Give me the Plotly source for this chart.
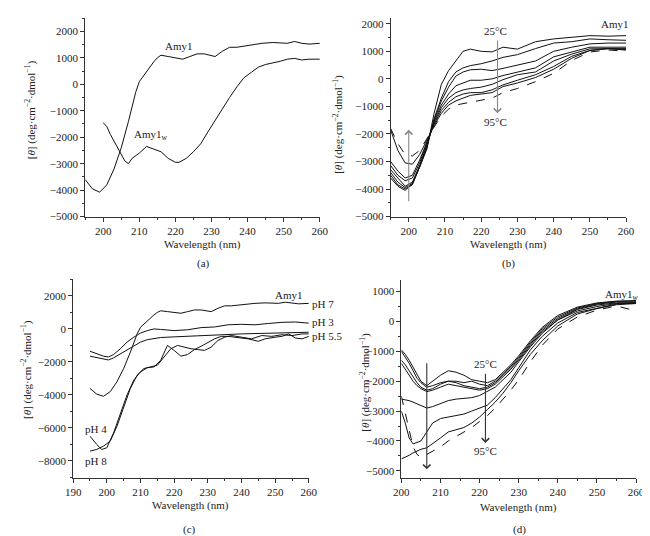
import plotly.graph_objects as go

# ---------------- Panel (a) ----------------
wl_amy1 = [195, 197, 199, 201, 203, 205, 207, 209, 210, 211, 212, 213, 214, 215, 216, 218, 220, 222, 224,
           226, 228, 230, 231, 233, 235, 237, 239, 241, 244, 247, 250, 251, 253, 255, 257, 260]
amy1 = [-3600, -3950, -4080, -3800, -3200, -2400, -1400, -300, 100, 300, 450, 650, 850, 1000, 1100, 1050,
        1000, 950, 1050, 1150, 1150, 1080, 1050, 1250, 1400, 1400, 1450, 1500, 1550, 1580, 1550, 1550, 1620,
        1550, 1520, 1550]
wl_amy1w = [200, 201, 202, 204, 205, 206, 207, 208, 210, 212, 214, 216, 218, 220, 221, 223, 225, 227, 229,
            231, 233, 235, 237, 239, 241, 243, 245, 247, 249, 251, 253, 255, 257, 260]
amy1w = [-1450, -1600, -1900, -2400, -2650, -2900, -3000, -2800, -2600, -2350, -2450, -2550, -2800, -2950,
         -2950, -2800, -2550, -2250, -1800, -1350, -950, -500, -100, 250, 450, 650, 750, 800, 870, 950, 980,
         920, 950, 950]

# ---------------- Panel (b): Amy1, 25-95 C ----------------
wl_b = [195, 197, 199, 201, 203, 205, 207, 209, 211, 213, 215, 217, 220, 223, 226, 230, 235, 240, 245, 250, 255, 260]
b_25 = [-3600, -3900, -4050, -3800, -3200, -2550, -1250, -200, 300, 650, 1000, 1080, 1000, 980, 1150, 1080, 1350, 1450, 1500, 1570, 1550, 1570]
b_35 = [-3500, -3850, -4000, -3850, -3200, -2500, -1450, -700, -100, 250, 400, 480, 550, 650, 780, 880, 1100, 1300, 1350, 1450, 1420, 1400]
b_45 = [-3400, -3750, -3950, -3800, -3200, -2450, -1500, -800, -300, 100, 250, 330, 350, 300, 380, 500, 650, 1000, 1150, 1270, 1300, 1300]
b_55 = [-3300, -3600, -3900, -3750, -3150, -2400, -1550, -950, -550, -250, -150, -50, -50, 0, 120, 250, 400, 800, 975, 1150, 1150, 1150]
b_65 = [-3150, -3500, -3700, -3600, -3050, -2350, -1600, -1050, -700, -500, -400, -350, -300, -200, -30, 150, 250, 650, 900, 1090, 1100, 1100]
b_75 = [-3000, -3350, -3600, -3500, -2950, -2300, -1650, -1150, -850, -650, -550, -500, -500, -400, -220, -50, 150, 450, 820, 1030, 1100, 1050]
b_85 = [-1850, -2600, -3050, -3100, -2750, -2200, -1700, -1250, -950, -800, -700, -600, -550, -500, -280, -150, 50, 350, 750, 1030, 1100, 1050]
b_95 = [-1800, -2350, -2750, -2800, -2600, -2150, -1750, -1350, -1100, -950, -900, -850, -800, -700, -500, -350, -100, 200, 670, 975, 1050, 1000]

# ---------------- Panel (c): Amy1 at different pH ----------------
wl_ph3 = [195, 197, 199, 200.5, 202, 204, 206, 208, 210, 212, 214, 216, 218, 220, 224, 228, 232, 236, 240,
          244, 248, 252, 256, 260]
ph3 = [-1350, -1500, -1650, -1700, -1550, -1200, -800, -500, -250, -100, 0, -30, -80, -100, -50, 80, 120,
       250, 280, 250, 330, 400, 420, 350]
wl_ph55 = [195, 197, 199, 200.5, 202, 204, 206, 208, 210, 212, 214, 216, 220, 224, 228, 232, 236, 240, 244,
           248, 252, 256, 260]
ph55 = [-1650, -1750, -1850, -1880, -1750, -1500, -1250, -1000, -800, -650, -580, -520, -480, -440, -390,
        -360, -330, -300, -280, -260, -240, -220, -200]
wl_ph4 = [195, 197, 198.5, 200, 202, 204, 206, 208, 210, 212, 214, 216, 218, 220, 222, 224, 226, 228, 230,
          232, 234, 236, 238, 240, 242, 245, 247, 250, 252, 254, 256, 258, 260]
ph4 = [-6500, -7000, -7300, -7200, -6300, -5200, -4000, -3100, -2600, -2350, -2300, -1900, -1000, -1300,
       -1650, -1550, -1250, -1050, -800, -600, -450, -450, -500, -550, -600, -750, -600, -500, -450, -300,
       -550, -600, -450]
wl_ph8 = [195, 197, 199, 201, 203, 205, 207, 209, 211, 213, 215, 217, 219, 221, 223, 225, 227, 229, 231,
          233, 235, 237, 240, 243, 246, 249, 252, 255, 258, 260]
ph8 = [-7400, -7300, -7100, -6800, -5900, -4800, -3600, -2800, -2400, -2300, -2200, -1700, -1200, -1000,
       -1100, -1200, -1250, -1300, -1100, -700, -500, -400, -500, -600, -400, -450, -350, -400, -300, -300]

# ---------------- Panel (d): Amy1w, 25-95 C ----------------
wl_d = [200, 201, 202, 203, 204, 205, 206.5, 208, 210, 212, 214, 216, 218, 220, 222, 224, 226, 228, 230, 233,
        236, 240, 245, 250, 255, 260]
d_25 = [-950, -1100, -1300, -1550, -1800, -2000, -2150, -2000, -1800, -1650, -1700, -1800, -1950, -2000, -2050,
        -1950, -1700, -1450, -1150, -650, -200, 200, 480, 620, 680, 700]
d_35 = [-1000, -1200, -1400, -1650, -1900, -2050, -2200, -2150, -2050, -2000, -2000, -2050, -2000, -2100, -2150,
        -2000, -1750, -1500, -1200, -700, -250, 150, 450, 600, 670, 680]
d_45 = [-1300, -1450, -1650, -1850, -2050, -2200, -2300, -2250, -2100, -2000, -2050, -2150, -2200, -2250, -2200,
        -2050, -1800, -1550, -1250, -750, -300, 100, 420, 580, 650, 650]
d_55 = [-1400, -1600, -1800, -2000, -2150, -2250, -2350, -2300, -2200, -2100, -2150, -2200, -2250, -2300, -2250,
        -2100, -1850, -1600, -1300, -800, -350, 50, 400, 550, 620, 630]
d_65 = [-2600, -2620, -2650, -2700, -2750, -2820, -2900, -2850, -2750, -2650, -2600, -2570, -2550, -2480, -2350,
        -2200, -1950, -1700, -1350, -850, -400, 50, 350, 500, 600, 600]
d_75 = [-3000, -3400, -3900, -4100, -4050, -4000, -3700, -3400, -3250, -3200, -3150, -3100, -3000, -2900, -2800,
        -2550, -2250, -1950, -1550, -950, -500, -50, 300, 450, 580, 620]
d_85 = [-4600, -4550, -4480, -4400, -4330, -4280, -4230, -4100, -3900, -3700, -3620, -3550, -3400, -3200, -2950,
        -2700, -2400, -2050, -1650, -1100, -650, -150, 250, 430, 560, 600]
d_95 = [-2500, -3100, -3700, -4200, -4450, -4550, -4450, -4350, -4200, -4000, -3850, -3700, -3550, -3350, -3150,
        -2900, -2600, -2300, -1950, -1350, -800, -250, 150, 380, 520, 350]

FONT = "Liberation Serif"
TXT = "#222"
LINE = dict(color="#111", width=1)
DASH = dict(color="#111", width=1, dash="dash")

fig = go.Figure()

def add(x, y, xa, ya, line=LINE):
    fig.add_trace(go.Scatter(x=x, y=y, mode="lines", line=line, xaxis=xa, yaxis=ya,
                             showlegend=False, hoverinfo="skip"))

add(wl_amy1, amy1, "x", "y")
add(wl_amy1w, amy1w, "x", "y")

for s in [b_25, b_35, b_45, b_55, b_65, b_75, b_85]:
    add(wl_b, s, "x2", "y2")
add(wl_b, b_95, "x2", "y2", DASH)

add(wl_amy1, amy1, "x3", "y3")
add(wl_ph3, ph3, "x3", "y3")
add(wl_ph55, ph55, "x3", "y3")
add(wl_ph4, ph4, "x3", "y3")
add(wl_ph8, ph8, "x3", "y3")

for s in [d_25, d_35, d_45, d_55, d_65, d_75, d_85]:
    add(wl_d, s, "x4", "y4")
add(wl_d, d_95, "x4", "y4", DASH)

W, H = 650, 536

def xdom(a, b):
    return [a / W, b / W]

def ydom(bot, top):
    return [1 - bot / H, 1 - top / H]

axcommon = dict(showline=True, linecolor="#333", linewidth=1, ticks="outside", ticklen=4,
                tickcolor="#333", showgrid=False, zeroline=False,
                tickfont=dict(family=FONT, size=11, color=TXT))

def ax(dom, rng, anchor, dtick, minor):
    return dict(axcommon, domain=dom, range=rng, anchor=anchor, dtick=dtick, tick0=0,
                minor=dict(dtick=minor, ticks="outside", ticklen=2, tickcolor="#333"))

fig.update_layout(
    width=W, height=H, margin=dict(l=0, r=0, t=0, b=0),
    paper_bgcolor="white", plot_bgcolor="white",
    font=dict(family=FONT, size=11, color=TXT),
    xaxis=ax(xdom(71, 312), [195, 260], "y", 10, 5),
    yaxis=ax(ydom(210.3, 9.3), [-5000, 2500], "x", 1000, 500),
    xaxis2=ax(xdom(384.7, 626.5), [195, 260], "y2", 10, 5),
    yaxis2=ax(ydom(210.3, 9.4), [-5000, 2200], "x2", 1000, 500),
    xaxis3=ax(xdom(58.7, 300.7), [190, 260], "y3", 10, 5),
    yaxis3=ax(ydom(474.7, 274), [-9000, 3000], "x3", 2000, 1000),
    xaxis4=ax(xdom(395.7, 636.7), [200, 260], "y4", 10, 5),
    yaxis4=ax(ydom(475.5, 274.2), [-5250, 1400], "x4", 1000, 500),
)

ann = []
def txt(x, y, text, xref, yref, xanchor="center"):
    ann.append(dict(x=x, y=y, text=text, xref=xref, yref=yref, showarrow=False,
                    xanchor=xanchor, yanchor="middle",
                    font=dict(family=FONT, size=11, color=TXT)))

def arrow(x, y0, y1, xr, yr, color):
    ann.append(dict(x=x, y=y1, ax=x, ay=y0, xref=xr, yref=yr, axref=xr, ayref=yr, text="",
                    showarrow=True, arrowhead=4, arrowsize=1.3, arrowwidth=1.1, arrowcolor=color))

def ptxt(px, py, text, angle=0, xanchor="center"):
    ann.append(dict(x=px / W, y=1 - py / H, xref="paper", yref="paper", text=text, showarrow=False,
                    xanchor=xanchor, yanchor="middle", textangle=angle,
                    font=dict(family=FONT, size=11, color=TXT)))

# Panel a
txt(221, 1440, "Amy1", "x", "y")
txt(213.2, -1920, "Amy1<sub>w</sub>", "x", "y")
# Panel b
txt(257, 2000, "Amy1", "x2", "y2")
txt(224, 1720, "25°C", "x2", "y2")
txt(224, -1560, "95°C", "x2", "y2")
arrow(224.5, 1450, -1250, "x2", "y2", "#888")
arrow(200, -4500, -1850, "x2", "y2", "#888")
# Panel c
txt(254, 2050, "Amy1", "x3", "y3")
ptxt(302, 298.5, "pH 7", xanchor="left")
ptxt(302, 317, "pH 3", xanchor="left")
ptxt(302, 331, "pH 5.5", xanchor="left")
txt(196.7, -6090, "pH 4", "x3", "y3")
txt(196.7, -7980, "pH 8", "x3", "y3")
# Panel d
txt(256.4, 890, "Amy1<i><sub>w</sub></i>", "x4", "y4")
txt(221.4, -1420, "25°C", "x4", "y4")
txt(221.5, -4320, "95°C", "x4", "y4")
arrow(206.5, -1350, -4950, "x4", "y4", "#333")
arrow(221.5, -1700, -4070, "x4", "y4", "#333")

# axis titles and panel letters
ytitle = "[<i>θ</i>] (deg·cm<sup>−2</sup>·dmol<sup>−1</sup>)"
ptxt(191, 239, "Wavelength (nm)")
ptxt(506, 239, "Wavelength (nm)")
ptxt(179, 503, "Wavelength (nm)")
ptxt(516, 505, "Wavelength (nm)")
ptxt(15, 102, ytitle, -90)
ptxt(331, 117, ytitle, -90)
ptxt(11, 365, ytitle, -90)
ptxt(358, 378, ytitle, -90)
ptxt(193, 258, "(a)")
ptxt(506, 258, "(b)")
ptxt(178, 527, "(c)")
ptxt(517, 527, "(d)")

fig.update_layout(annotations=ann)
fig.write_html("out.html")
